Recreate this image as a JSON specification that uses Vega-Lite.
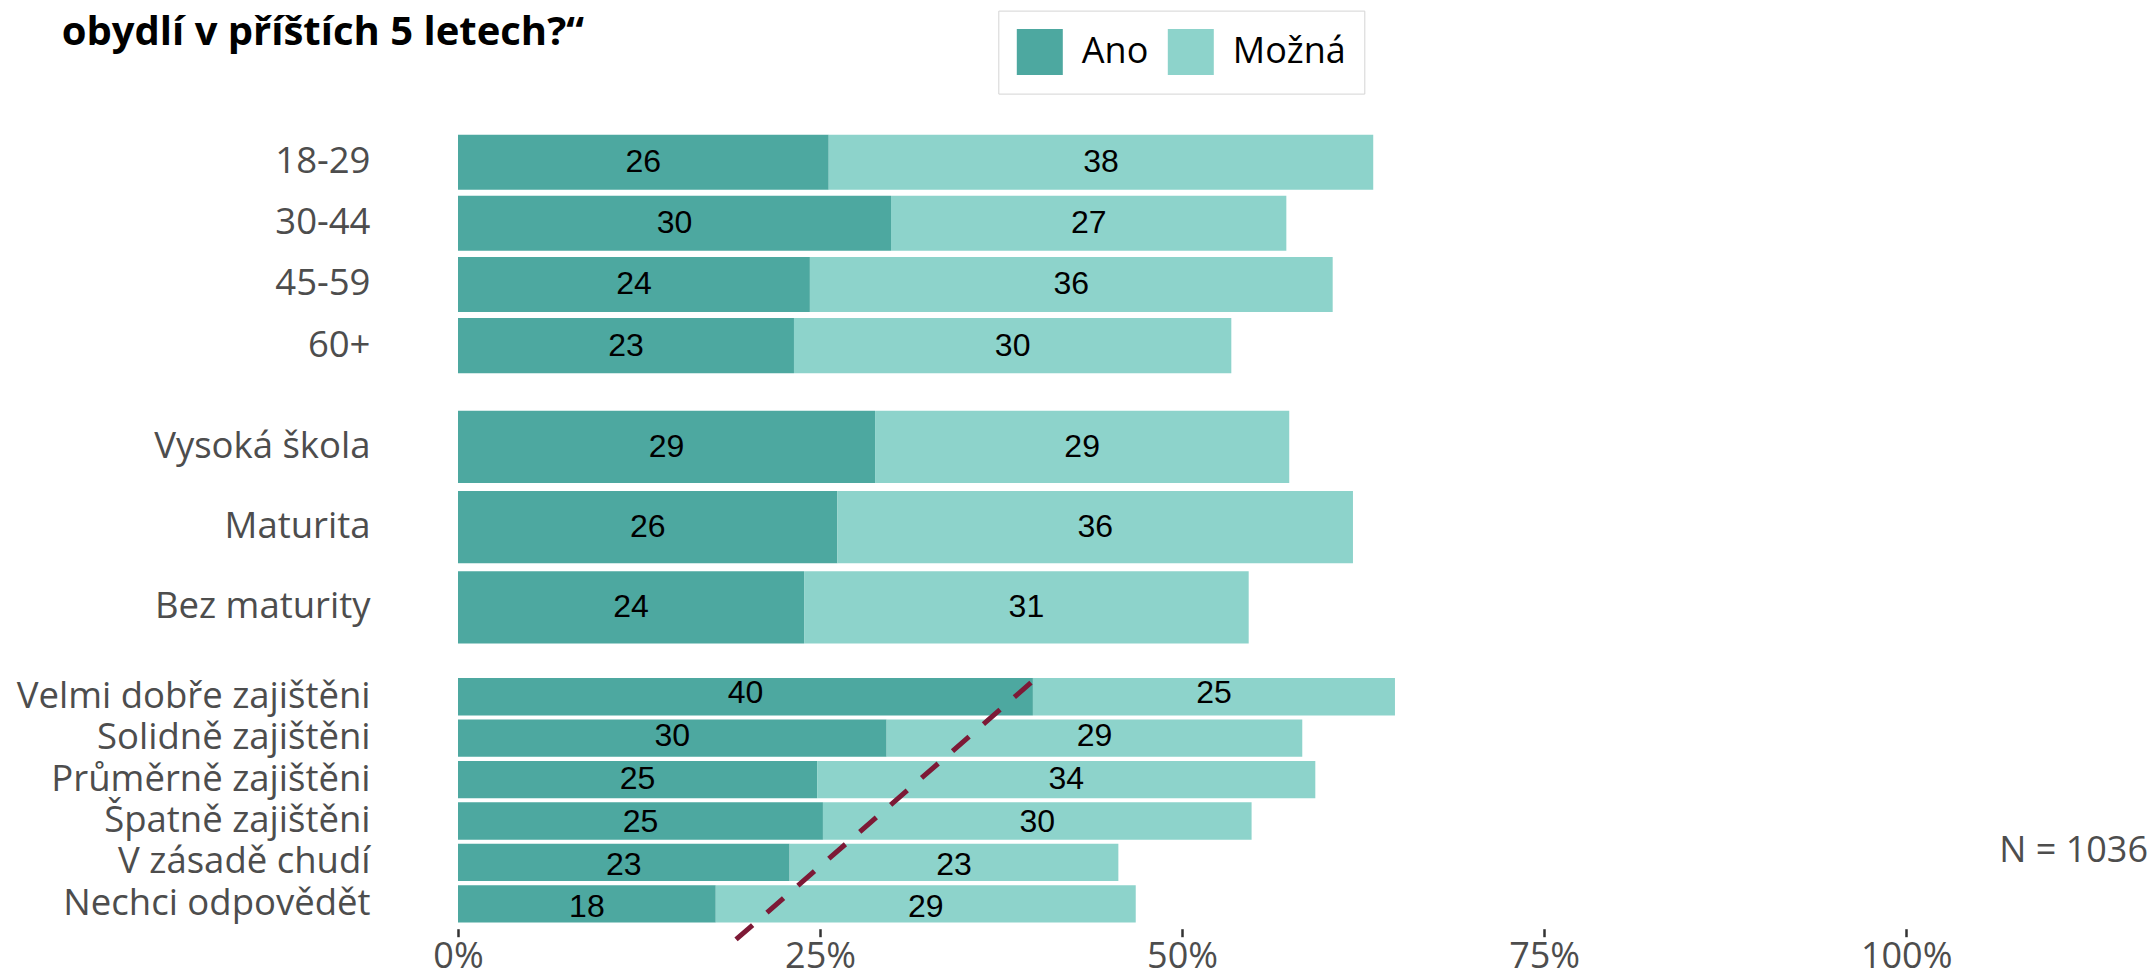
{
  "$schema": "https://vega.github.io/schema/vega-lite/v6.json",
  "autosize": {"type": "pad"},
  "padding": {"left": 16, "top": 9.5, "right": 0, "bottom": 0},
  "background": "white",
  "title": {"text": "obydlí v příštích 5 letech?“", "anchor": "start", "frame": "group", "font": "Open Sans", "fontSize": 40, "fontWeight": "bold", "color": "black", "offset": 0, "dx": -396.3, "dy": 74.6, "baseline": "alphabetic"},
  "config": {"view": {"stroke": null}, "axis": {"grid": false, "domain": false}, "font": "Open Sans"},
  "datasets": {
    "d": [
      {"g": "age", "cat": "18-29", "resp": "Ano", "value": 25.6},
      {"g": "age", "cat": "18-29", "resp": "Možná", "value": 37.6},
      {"g": "age", "cat": "30-44", "resp": "Ano", "value": 29.9},
      {"g": "age", "cat": "30-44", "resp": "Možná", "value": 27.3},
      {"g": "age", "cat": "45-59", "resp": "Ano", "value": 24.3},
      {"g": "age", "cat": "45-59", "resp": "Možná", "value": 36.1},
      {"g": "age", "cat": "60+", "resp": "Ano", "value": 23.2},
      {"g": "age", "cat": "60+", "resp": "Možná", "value": 30.2},
      {"g": "edu", "cat": "Vysoká škola", "resp": "Ano", "value": 28.8},
      {"g": "edu", "cat": "Vysoká škola", "resp": "Možná", "value": 28.6},
      {"g": "edu", "cat": "Maturita", "resp": "Ano", "value": 26.2},
      {"g": "edu", "cat": "Maturita", "resp": "Možná", "value": 35.6},
      {"g": "edu", "cat": "Bez maturity", "resp": "Ano", "value": 23.9},
      {"g": "edu", "cat": "Bez maturity", "resp": "Možná", "value": 30.7},
      {"g": "inc", "cat": "Velmi dobře zajištěni", "resp": "Ano", "value": 39.7},
      {"g": "inc", "cat": "Velmi dobře zajištěni", "resp": "Možná", "value": 25.0},
      {"g": "inc", "cat": "Solidně zajištěni", "resp": "Ano", "value": 29.6},
      {"g": "inc", "cat": "Solidně zajištěni", "resp": "Možná", "value": 28.7},
      {"g": "inc", "cat": "Průměrně zajištěni", "resp": "Ano", "value": 24.8},
      {"g": "inc", "cat": "Průměrně zajištěni", "resp": "Možná", "value": 34.4},
      {"g": "inc", "cat": "Špatně zajištěni", "resp": "Ano", "value": 25.2},
      {"g": "inc", "cat": "Špatně zajištěni", "resp": "Možná", "value": 29.6},
      {"g": "inc", "cat": "V zásadě chudí", "resp": "Ano", "value": 22.9},
      {"g": "inc", "cat": "V zásadě chudí", "resp": "Možná", "value": 22.7},
      {"g": "inc", "cat": "Nechci odpovědět", "resp": "Ano", "value": 17.8},
      {"g": "inc", "cat": "Nechci odpovědět", "resp": "Možná", "value": 29.0}
    ],
    "trend": [{"x": 19.2, "y": 6.86, "x2": 39.7, "y2": 0.62}],
    "note": [{"note": "N = 1036"}]
  },
  "spacing": 16.2,
  "bounds": "flush",
  "resolve": {"scale": {"color": "shared"}, "legend": {"color": "shared"}},
  "vconcat": [
    {
      "width": 1690, "height": 256.8,
      "data": {"name": "d"},
      "layer": [
        {
          "transform": [{"filter": {"field": "g", "equal": "age"}}, {"stack": "value", "groupby": ["cat"], "sort": [{"field": "resp", "order": "ascending"}], "as": ["s0", "s1"]}],
          "mark": {"type": "bar"},
          "encoding": {
            "y": {"field": "cat", "type": "nominal", "title": null, "scale": {"domain": ["18-29", "30-44", "45-59", "60+"], "paddingInner": 0.1, "paddingOuter": 0.15},
                  "axis": {"title": null, "labelFont": "Open Sans", "labelFontSize": 36.5, "labelColor": "#4d4d4d", "ticks": false, "tickSize": 0, "domain": false, "labelPadding": 88, "labelLimit": 1000}},
            "x": {"field": "s0", "type": "quantitative", "title": null, "scale": {"domain": [0, 116.7], "nice": false}, "axis": null},
            "x2": {"field": "s1"},
            "color": {"field": "resp", "type": "nominal", "scale": {"domain": ["Ano", "Možná"], "range": ["#4da8a0", "#8dd3cb"]},
                      "legend": {"orient": "none", "legendX": 540.3, "legendY": -114.9, "direction": "horizontal", "title": null, "symbolType": "square", "symbolSize": 2116, "symbolStrokeWidth": 0, "symbolOpacity": 1, "labelFont": "Open Sans", "labelFontSize": 36, "labelColor": "black", "labelOffset": 19, "columnPadding": 19, "padding": 18.5, "strokeColor": "#d4d4d4", "fillColor": "white"}}
          }
        },
        {
          "transform": [{"filter": {"field": "g", "equal": "age"}}, {"stack": "value", "groupby": ["cat"], "sort": [{"field": "resp", "order": "ascending"}], "as": ["s0", "s1"]}, {"fold": ["s0", "s1"], "as": ["k", "pos"]}],
          "mark": {"type": "text", "font": "Liberation Sans", "fontSize": 32, "color": "black", "baseline": "middle", "align": "center"},
          "encoding": {
            "y": {"field": "cat", "type": "nominal", "title": null, "scale": {"domain": ["18-29", "30-44", "45-59", "60+"], "paddingInner": 0.1, "paddingOuter": 0.15},
                  "axis": {"title": null, "labelFont": "Open Sans", "labelFontSize": 36.5, "labelColor": "#4d4d4d", "ticks": false, "tickSize": 0, "domain": false, "labelPadding": 88, "labelLimit": 1000}},
            "x": {"aggregate": "mean", "field": "pos", "type": "quantitative", "title": null, "scale": {"domain": [0, 116.7], "nice": false}, "axis": null},
            "detail": {"field": "resp"},
            "text": {"field": "value", "type": "quantitative", "format": ".0f"}
          }
        }
      ]
    },
    {
      "width": 1690, "height": 256.8,
      "data": {"name": "d"},
      "layer": [
        {
          "transform": [{"filter": {"field": "g", "equal": "edu"}}, {"stack": "value", "groupby": ["cat"], "sort": [{"field": "resp", "order": "ascending"}], "as": ["s0", "s1"]}],
          "mark": {"type": "bar"},
          "encoding": {
            "y": {"field": "cat", "type": "nominal", "title": null, "scale": {"domain": ["Vysoká škola", "Maturita", "Bez maturity"], "paddingInner": 0.1, "paddingOuter": 0.15},
                  "axis": {"title": null, "labelFont": "Open Sans", "labelFontSize": 36.5, "labelColor": "#4d4d4d", "ticks": false, "tickSize": 0, "domain": false, "labelPadding": 88, "labelLimit": 1000}},
            "x": {"field": "s0", "type": "quantitative", "title": null, "scale": {"domain": [0, 116.7], "nice": false}, "axis": null},
            "x2": {"field": "s1"},
            "color": {"field": "resp", "type": "nominal", "scale": {"domain": ["Ano", "Možná"], "range": ["#4da8a0", "#8dd3cb"]},
                      "legend": {"orient": "none", "legendX": 540.3, "legendY": -114.9, "direction": "horizontal", "title": null, "symbolType": "square", "symbolSize": 2116, "symbolStrokeWidth": 0, "symbolOpacity": 1, "labelFont": "Open Sans", "labelFontSize": 36, "labelColor": "black", "labelOffset": 19, "columnPadding": 19, "padding": 18.5, "strokeColor": "#d4d4d4", "fillColor": "white"}}
          }
        },
        {
          "transform": [{"filter": {"field": "g", "equal": "edu"}}, {"stack": "value", "groupby": ["cat"], "sort": [{"field": "resp", "order": "ascending"}], "as": ["s0", "s1"]}, {"fold": ["s0", "s1"], "as": ["k", "pos"]}],
          "mark": {"type": "text", "font": "Liberation Sans", "fontSize": 32, "color": "black", "baseline": "middle", "align": "center"},
          "encoding": {
            "y": {"field": "cat", "type": "nominal", "title": null, "scale": {"domain": ["Vysoká škola", "Maturita", "Bez maturity"], "paddingInner": 0.1, "paddingOuter": 0.15},
                  "axis": {"title": null, "labelFont": "Open Sans", "labelFontSize": 36.5, "labelColor": "#4d4d4d", "ticks": false, "tickSize": 0, "domain": false, "labelPadding": 88, "labelLimit": 1000}},
            "x": {"aggregate": "mean", "field": "pos", "type": "quantitative", "title": null, "scale": {"domain": [0, 116.7], "nice": false}, "axis": null},
            "detail": {"field": "resp"},
            "text": {"field": "value", "type": "quantitative", "format": ".0f"}
          }
        }
      ]
    },
    {
      "width": 1690, "height": 256.8,
      "resolve": {"scale": {"y": "independent"}},
      "layer": [
        {
          "data": {"name": "d"},
          "transform": [{"filter": {"field": "g", "equal": "inc"}}, {"stack": "value", "groupby": ["cat"], "sort": [{"field": "resp", "order": "ascending"}], "as": ["s0", "s1"]}],
          "mark": {"type": "bar"},
          "encoding": {
            "y": {"field": "cat", "type": "nominal", "title": null, "scale": {"domain": ["Velmi dobře zajištěni", "Solidně zajištěni", "Průměrně zajištěni", "Špatně zajištěni", "V zásadě chudí", "Nechci odpovědět"], "paddingInner": 0.1, "paddingOuter": 0.15},
                  "axis": {"title": null, "labelFont": "Open Sans", "labelFontSize": 36.5, "labelColor": "#4d4d4d", "ticks": false, "tickSize": 0, "domain": false, "labelPadding": 88, "labelLimit": 1000}},
            "x": {"field": "s0", "type": "quantitative", "title": null, "scale": {"domain": [0, 116.7], "nice": false},
                  "axis": {"title": null, "values": [0, 25, 50, 75, 100], "labelExpr": "datum.value + '%'", "labelFont": "Open Sans", "labelFontSize": 36, "labelColor": "#4d4d4d", "ticks": true, "tickSize": 8, "tickWidth": 2.5, "tickColor": "#333333", "domain": false, "labelPadding": 3, "labelFlush": false, "labelOverlap": false, "grid": false}},
            "x2": {"field": "s1"},
            "color": {"field": "resp", "type": "nominal", "scale": {"domain": ["Ano", "Možná"], "range": ["#4da8a0", "#8dd3cb"]},
                      "legend": {"orient": "none", "legendX": 540.3, "legendY": -114.9, "direction": "horizontal", "title": null, "symbolType": "square", "symbolSize": 2116, "symbolStrokeWidth": 0, "symbolOpacity": 1, "labelFont": "Open Sans", "labelFontSize": 36, "labelColor": "black", "labelOffset": 19, "columnPadding": 19, "padding": 18.5, "strokeColor": "#d4d4d4", "fillColor": "white"}}
          }
        },
        {
          "data": {"name": "d"},
          "transform": [{"filter": {"field": "g", "equal": "inc"}}, {"stack": "value", "groupby": ["cat"], "sort": [{"field": "resp", "order": "ascending"}], "as": ["s0", "s1"]}, {"fold": ["s0", "s1"], "as": ["k", "pos"]}],
          "mark": {"type": "text", "font": "Liberation Sans", "fontSize": 32, "color": "black", "baseline": "middle", "align": "center"},
          "encoding": {
            "y": {"field": "cat", "type": "nominal", "scale": {"domain": ["Velmi dobře zajištěni", "Solidně zajištěni", "Průměrně zajištěni", "Špatně zajištěni", "V zásadě chudí", "Nechci odpovědět"], "paddingInner": 0.1, "paddingOuter": 0.15}, "axis": null},
            "x": {"aggregate": "mean", "field": "pos", "type": "quantitative", "title": null, "scale": {"domain": [0, 116.7], "nice": false},
                  "axis": {"title": null, "values": [0, 25, 50, 75, 100], "labelExpr": "datum.value + '%'", "labelFont": "Open Sans", "labelFontSize": 36, "labelColor": "#4d4d4d", "ticks": true, "tickSize": 8, "tickWidth": 2.5, "tickColor": "#333333", "domain": false, "labelPadding": 3, "labelFlush": false, "labelOverlap": false, "grid": false}},
            "detail": {"field": "resp"},
            "text": {"field": "value", "type": "quantitative", "format": ".0f"}
          }
        },
        {
          "data": {"name": "trend"},
          "mark": {"type": "rule", "color": "#7d1936", "strokeWidth": 5, "strokeDash": [22, 19], "clip": false},
          "encoding": {
            "x": {"field": "x", "type": "quantitative", "title": null, "scale": {"domain": [0, 116.7], "nice": false},
                  "axis": {"title": null, "values": [0, 25, 50, 75, 100], "labelExpr": "datum.value + '%'", "labelFont": "Open Sans", "labelFontSize": 36, "labelColor": "#4d4d4d", "ticks": true, "tickSize": 8, "tickWidth": 2.5, "tickColor": "#333333", "domain": false, "labelPadding": 3, "labelFlush": false, "labelOverlap": false, "grid": false}},
            "x2": {"field": "x2"},
            "y": {"field": "y", "type": "quantitative", "scale": {"domain": [0.4, 6.6], "reverse": true, "nice": false, "zero": false}, "axis": null},
            "y2": {"field": "y2"}
          }
        },
        {
          "data": {"name": "note"},
          "mark": {"type": "text", "font": "Open Sans", "fontSize": 36, "color": "#4d4d4d", "align": "right", "baseline": "middle", "clip": false},
          "encoding": {
            "x": {"datum": 116.7, "type": "quantitative", "title": null, "scale": {"domain": [0, 116.7], "nice": false},
                  "axis": {"title": null, "values": [0, 25, 50, 75, 100], "labelExpr": "datum.value + '%'", "labelFont": "Open Sans", "labelFontSize": 36, "labelColor": "#4d4d4d", "ticks": true, "tickSize": 8, "tickWidth": 2.5, "tickColor": "#333333", "domain": false, "labelPadding": 3, "labelFlush": false, "labelOverlap": false, "grid": false}},
            "y": {"datum": 4.72, "type": "quantitative", "scale": {"domain": [0.4, 6.6], "reverse": true, "nice": false, "zero": false}, "axis": null},
            "text": {"field": "note", "type": "nominal"}
          }
        }
      ]
    }
  ]
}
